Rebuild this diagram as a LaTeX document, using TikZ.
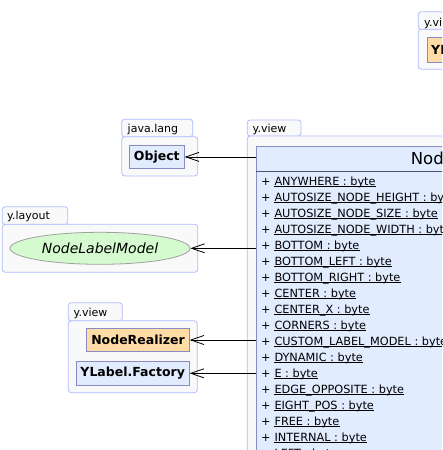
\documentclass[tikz,border=0pt]{standalone}
\usepackage{fontspec}
\setmainfont{DejaVu Sans}
\usetikzlibrary{arrows.meta,shapes.geometric}
\definecolor{pkgborder}{HTML}{B0BCFF}
\definecolor{pkgfill}{HTML}{F9F9F9}
\definecolor{clsborder}{HTML}{8A8AC4}
\definecolor{clsfill}{HTML}{E2ECFF}
\definecolor{realfill}{HTML}{FFDCA6}
\definecolor{ellfill}{HTML}{D6FAD0}
\definecolor{ellborder}{HTML}{A0A0A0}
\begin{document}
\begin{tikzpicture}[x=1pt,y=-1pt,
  pkgline/.style={draw=pkgborder, fill=pkgfill, line width=0.8pt, rounded corners=3pt},
  tabtext/.style={anchor=base west, font=\fontsize{11}{13}\selectfont, inner sep=0pt},
  classbox/.style={draw=clsborder, fill=clsfill, line width=0.8pt, inner sep=0pt,
    font=\bfseries\fontsize{12.5}{14}\selectfont},
  realbox/.style={classbox, fill=realfill},
  rowtext/.style={anchor=base west, inner sep=0pt, font=\fontsize{11.3}{13}\selectfont},
  dep/.style={draw=black, line width=0.8pt, -{Straight Barb[length=13pt,width=9pt]}}
]
\useasboundingbox (0,0) rectangle (442,450);
\clip (0,0) rectangle (442,450);
\fill[white] (0,0) rectangle (442,450);

% top right package (partially visible)
\path[pkgline] (418.3,11.7) rectangle (480,29.5);
\path[pkgline] (418.3,29.3) rectangle (520,69.3);
\node[tabtext] (tTop) at (424,26) {y.vi};
\node[realbox, anchor=north west, minimum width=60pt, minimum height=24.4pt] (topcls) at (426.5,37.3) {};
\node[anchor=base west, inner sep=0pt, font=\bfseries\fontsize{12.5}{14}\selectfont] (topname) at (431,54.5) {YL};

% java.lang package
\path[pkgline] (121.7,119.3) rectangle (192.7,136.9);
\path[pkgline] (121.7,136.7) rectangle (197.7,176);
\node[tabtext] (tJava) at (127.5,132.3) {java.lang};
\node[classbox, minimum width=55pt, minimum height=23.6pt] (obj) at (156.8,156.9) {Object};

% y.layout package
\path[pkgline] (2.3,206.7) rectangle (67.7,224.5);
\path[pkgline] (2.3,224.3) rectangle (197.7,272.3);
\node[tabtext] (tLayout) at (7,219.7) {y.layout};
\node[ellipse, draw=ellborder, fill=ellfill, line width=0.8pt, minimum width=180pt, minimum height=32pt,
  inner sep=0pt, font=\itshape\fontsize{14}{16}\selectfont] (nlm) at (100,248.3) {NodeLabelModel};

% y.view package (left)
\path[pkgline] (68.3,302.7) rectangle (122.3,320.9);
\path[pkgline] (68.3,320.7) rectangle (197.3,392.7);
\node[tabtext] (tView) at (73.5,316) {y.view};
\node[realbox, minimum width=102.6pt, minimum height=23.4pt] (real) at (138,340) {NodeRealizer};
\node[classbox, minimum width=113pt, minimum height=24.7pt] (fact) at (132.7,373.3) {YLabel.Factory};

% y.view package (right)
\path[pkgline] (247.3,120) rectangle (301,136.2);
\path[pkgline] (247.3,136) rectangle (700,900);
\node[tabtext] (tView2) at (252.5,132) {y.view};
\node[classbox, anchor=north west, minimum width=400pt, minimum height=600pt] (cls) at (255.7,145.7) {};
\draw[clsborder!60!black, line width=0.8pt] (cls.west |- 0,171) coordinate (sepL) -- (cls.east |- 0,171) coordinate (sepR);
\node[anchor=base west, inner sep=0pt, font=\fontsize{16.5}{18}\selectfont] (clsname) at (410.7,164.3) {Nod};

\foreach \t [count=\i from 0] in {ANYWHERE,AUTOSIZE\_NODE\_HEIGHT,AUTOSIZE\_NODE\_SIZE,AUTOSIZE\_NODE\_WIDTH,
  BOTTOM,BOTTOM\_LEFT,BOTTOM\_RIGHT,CENTER,CENTER\_X,CORNERS,CUSTOM\_LABEL\_MODEL,DYNAMIC,E,
  EDGE\_OPPOSITE,EIGHT\_POS,FREE,INTERNAL,LEFT} {
  \node[rowtext] (p\i) at (261,185+16*\i) {+};
  \node[rowtext] (r\i) at (274.3,185+16*\i) {\t\ :\ byte};
  \draw[line width=0.7pt] ([yshift=-1.8pt]r\i.base west) -- ([yshift=-1.8pt]r\i.base east);
}

% dependencies
\draw[dep] (cls.west |- obj.east) -- (obj.east);
\draw[dep] (cls.west |- nlm.east) -- (nlm.east);
\draw[dep] (cls.west |- real.east) -- (real.east);
\draw[dep] (cls.west |- fact.east) -- (fact.east);
\end{tikzpicture}
\end{document}
